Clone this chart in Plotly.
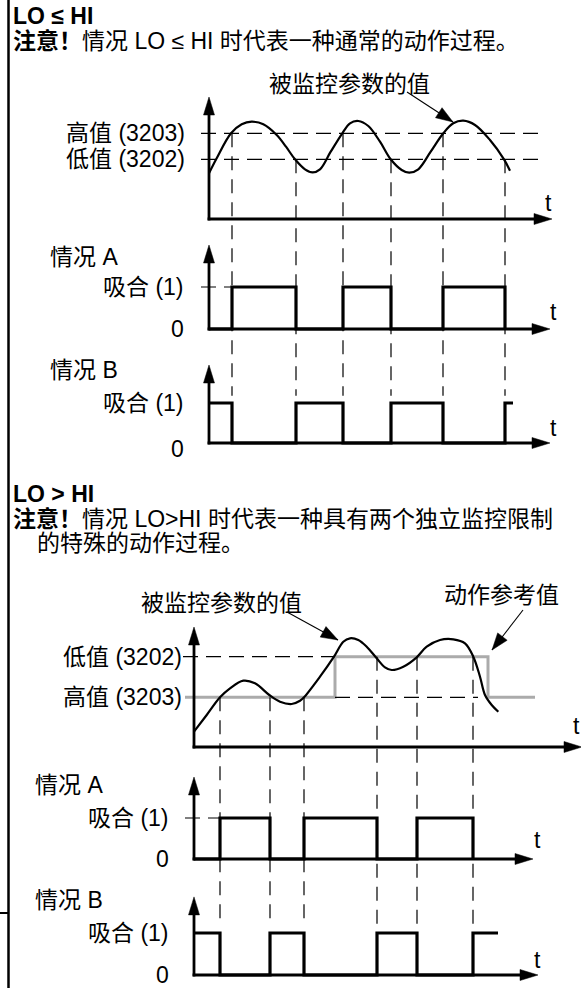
import math
import plotly.graph_objects as go

W, H = 581, 988
FONT = "Liberation Sans, Arial, 'Noto Sans CJK SC', sans-serif"
FS = 23
BLACK = "#000000"
GREY = "#ababab"

# ---------------- data: section 1 (LO <= HI) ----------------
top_t = [0.0, 0.77, 2.2, 3.27, 4.27, 5.43, 6.77, 7.7, 8.6, 9.6, 10.37, 11.1, 12.17,
         13.33, 14.1, 14.93, 15.93, 17.1, 18.17, 19.27, 20.03, 20.93, 22.17, 23.43,
         24.43, 25.43, 26.6, 28.1, 29.5, 30.1]
top_v = [4.57, 6.07, 8.57, 9.47, 9.73, 9.47, 8.4, 7.23, 5.97, 4.97, 4.67, 4.97, 6.73,
         8.57, 9.57, 9.8, 9.3, 7.73, 5.97, 4.9, 4.63, 4.97, 6.73, 8.57,
         9.57, 9.83, 9.4, 7.9, 5.97, 4.83]
top_hi = 8.57   # 高值 (3203)
top_lo = 5.97   # 低值 (3202)
top_switch_t = [2.3, 8.7, 13.4, 18.2, 23.4, 29.6]
top_switch_lvl = [top_hi, top_lo, top_hi, top_lo, top_hi, top_lo]
top_a_t = [0, 2.3, 8.7, 13.4, 18.2, 23.4, 29.6]
top_a_v = [0, 1, 0, 1, 0, 1, 0]
top_b_t = [0, 2.3, 8.7, 13.4, 18.2, 23.4, 29.6, 30.4]
top_b_v = [1, 0, 1, 0, 1, 0, 1, 1]

# ---------------- data: section 2 (LO > HI) ----------------
bot_t = [0.0, 1.27, 2.6, 3.6, 4.93, 6.1, 7.53, 8.6, 9.77, 10.6, 11.0, 12.6, 14.0,
         14.93, 15.6, 16.43, 17.27, 18.27, 19.1, 19.77, 20.93, 22.27, 23.27, 24.6,
         25.93, 27.1, 27.93, 28.6, 29.1, 29.77, 30.43]
bot_v = [1.53, 3.2, 4.97, 5.87, 6.63, 6.37, 5.2, 4.53, 4.3, 4.63, 4.97, 7.03, 9.03,
         10.53, 10.87, 10.7, 10.03, 8.87, 7.97, 7.7, 8.03, 8.97, 10.03, 10.7,
         10.77, 10.37, 9.03, 7.03, 5.2, 4.2, 3.53]
bot_lo = 9.03   # 低值 (3202)
bot_hi = 4.97   # 高值 (3203)
ref_t = [-0.9, 14.1, 29.4, 34.1]
ref_v = [bot_hi, bot_lo, bot_hi, bot_hi]
bot_switch_t = [2.6, 7.6, 11.0, 18.3, 22.3, 27.9]
bot_switch_lvl = [bot_hi, bot_hi, bot_hi, bot_lo, bot_lo, bot_lo]
bot_a_t = [0, 2.6, 7.6, 11.0, 18.3, 22.3, 27.9]
bot_a_v = [0, 1, 0, 1, 0, 1, 0]
bot_b_t = [0, 2.6, 7.6, 11.0, 18.3, 22.3, 27.9, 30.4]
bot_b_v = [1, 0, 1, 0, 1, 0, 1, 1]

# ---------------- geometry (pixels) ----------------
P = {
    'p1': dict(x='x', y='y', px0=209, py0=219, kx=10, ky=10, xtip=34.3, ytip=12.2),
    'p2': dict(x='x', y='y2', px0=209, py0=329, kx=10, ky=42, xtip=34.1, ytip=2.0),
    'p3': dict(x='x', y='y3', px0=209, py0=443, kx=10, ky=40, xtip=34.1, ytip=1.95),
    'p4': dict(x='x2', y='y4', px0=194, py0=747, kx=10, ky=10, xtip=38.8, ytip=12.0),
    'p5': dict(x='x2', y='y5', px0=194, py0=859, kx=10, ky=41, xtip=33.9, ytip=2.0),
    'p6': dict(x='x2', y='y6', px0=194, py0=975, kx=10, ky=42, xtip=34.4, ytip=1.86),
}


def to_px(p, t, v):
    g = P[p]
    return g['px0'] + t * g['kx'], g['py0'] - v * g['ky']


def from_px(p, x, y):
    g = P[p]
    return (x - g['px0']) / g['kx'], (g['py0'] - y) / g['ky']


fig = go.Figure()
shapes = []
annotations = []


def head(p, t, v, dx, dy, L=18, hw=5.5):
    n = math.hypot(dx, dy)
    ux, uy = dx / n, dy / n
    bx, by = -L * ux, -L * uy
    ox, oy = -uy * hw, ux * hw
    path = "M0,0 L{:.2f},{:.2f} L{:.2f},{:.2f} Z".format(bx + ox, by + oy, bx - ox, by - oy)
    return dict(type='path', xref=P[p]['x'], yref=P[p]['y'], xsizemode='pixel',
                ysizemode='pixel', xanchor=t, yanchor=v, path=path,
                fillcolor=BLACK, line=dict(color=BLACK, width=0.5), layer='above')


def seg(p, t0, v0, t1, v1, width=1.3, dash=None, color=BLACK):
    d = dict(type='line', xref=P[p]['x'], yref=P[p]['y'], x0=t0, y0=v0, x1=t1, y1=v1,
             line=dict(color=color, width=width), layer='above')
    if dash:
        d['line']['dash'] = dash
    return d


def axes_arrows(p):
    g = P[p]
    cx = 1.4 / g['kx']
    cy = 1.4 / g['ky']
    shapes.append(seg(p, -cx, 0, g['xtip'] - 9 / g['kx'], 0, width=2.8))
    shapes.append(seg(p, 0, -cy, 0, g['ytip'] - 9 / g['ky'], width=2.8))
    shapes.append(head(p, g['xtip'], 0, 1, 0))
    shapes.append(head(p, 0, g['ytip'], 0, 1))


def line_arrow(p, t0, v0, t1, v1):
    shapes.append(seg(p, t0, v0, t1, v1, width=1.1))
    x0, y0 = to_px(p, t0, v0)
    x1, y1 = to_px(p, t1, v1)
    shapes.append(head(p, t1, v1, x1 - x0, -(y1 - y0), L=17, hw=6))


def txt(x_px, y_px, s, xanchor='left', yref='paper', y=None, size=FS):
    annotations.append(dict(
        x=x_px / W, xref='paper',
        y=(1 - y_px / H) if yref == 'paper' else y, yref=yref,
        text=s, showarrow=False, xanchor=xanchor, yanchor='middle',
        font=dict(family=FONT, size=size, color=BLACK)))


def tr(p, x, y, **kw):
    fig.add_trace(go.Scatter(x=x, y=y, xaxis=P[p]['x'], yaxis=P[p]['y'], mode='lines',
                             hoverinfo='skip', showlegend=False, **kw))


DASH_H = "15px,8px"
DASH_V = "14px,9px"

# ---------------- section 1 ----------------
for lvl in (top_hi, top_lo):
    shapes.append(seg('p1', -0.8, lvl, 33.3, lvl, width=1.2, dash=DASH_H))
shapes.append(seg('p2', -0.8, 1, 2.3, 1, width=1.2, dash=DASH_H))
end_v = from_px('p1', 0, to_px('p3', 0, 1.18)[1])[1]
for t, lvl in zip(top_switch_t, top_switch_lvl):
    shapes.append(seg('p1', t, lvl, t, end_v, width=1.2, dash=DASH_V))

tr('p1', top_t, top_v, line=dict(color=BLACK, width=2.2, shape='spline', smoothing=1.0))
tr('p2', top_a_t, top_a_v, line=dict(color=BLACK, width=3.2, shape='hv'))
tr('p3', top_b_t, top_b_v, line=dict(color=BLACK, width=3.2, shape='hv'))
for p in ('p1', 'p2', 'p3'):
    axes_arrows(p)
line_arrow('p1', 19.8, 12.7, 24.4, 9.7)

txt(11, 16, "<b>LO ≤ HI</b>")
txt(11, 41, "<b>注意！</b>情况 LO ≤ HI 时代表一种通常的动作过程。")
txt(349, 84, "被监控参数的值", xanchor='center')
txt(187, 0, "高值 (3203)", xanchor='right', yref='y', y=top_hi)
txt(187, 0, "低值 (3202)", xanchor='right', yref='y', y=top_lo)
txt(548, 203, "t", xanchor='center')
txt(48, 257, "情况 A")
txt(186, 0, "吸合 (1)", xanchor='right', yref='y2', y=1)
txt(186, 0, "0", xanchor='right', yref='y2', y=0)
txt(553, 312, "t", xanchor='center')
txt(48, 370, "情况 B")
txt(186, 0, "吸合 (1)", xanchor='right', yref='y3', y=1)
txt(186, 449, "0", xanchor='right')
txt(553, 428, "t", xanchor='center')

# ---------------- section 2 ----------------
shapes.append(seg('p4', -1.1, bot_lo, 14.1, bot_lo, width=1.2, dash=DASH_H))
shapes.append(seg('p4', 14.1, bot_hi, 28.4, bot_hi, width=1.2, dash=DASH_H))
shapes.append(seg('p5', -0.9, 1, 2.6, 1, width=1.2, dash=DASH_H))
end_v2 = from_px('p4', 0, to_px('p6', 0, 1.19)[1])[1]
for t, lvl in zip(bot_switch_t, bot_switch_lvl):
    shapes.append(seg('p4', t, lvl, t, end_v2, width=1.2, dash=DASH_V))

tr('p4', ref_t, ref_v, line=dict(color=GREY, width=3, shape='hv'))
tr('p4', bot_t, bot_v, line=dict(color=BLACK, width=2.2, shape='spline', smoothing=1.0))
tr('p5', bot_a_t, bot_a_v, line=dict(color=BLACK, width=3.2, shape='hv'))
tr('p6', bot_b_t, bot_b_v, line=dict(color=BLACK, width=3.2, shape='hv'))
for p in ('p4', 'p5', 'p6'):
    axes_arrows(p)
line_arrow('p4', 9.3, 13.5, 14.4, 10.7)
line_arrow('p4', 32.9, 13.7, 29.8, 9.7)

txt(11, 494, "<b>LO > HI</b>")
txt(11, 519, "<b>注意！</b>情况 LO>HI 时代表一种具有两个独立监控限制")
txt(35, 543, "的特殊的动作过程。")
txt(304, 603, "被监控参数的值", xanchor='right')
txt(501, 595, "动作参考值", xanchor='center')
txt(184, 0, "低值 (3202)", xanchor='right', yref='y4', y=bot_lo)
txt(184, 0, "高值 (3203)", xanchor='right', yref='y4', y=bot_hi)
txt(576, 726, "t", xanchor='center')
txt(33, 785, "情况 A")
txt(171, 0, "吸合 (1)", xanchor='right', yref='y5', y=1)
txt(171, 0, "0", xanchor='right', yref='y5', y=0)
txt(537, 840, "t", xanchor='center')
txt(33, 900, "情况 B")
txt(171, 0, "吸合 (1)", xanchor='right', yref='y6', y=1)
txt(171, 0, "0", xanchor='right', yref='y6', y=0)
txt(537, 960, "t", xanchor='center')

# page frame: left rule and tick
shapes.append(dict(type='line', xref='paper', yref='paper', x0=8.5 / W, x1=8.5 / W, y0=0, y1=1,
                   line=dict(color=BLACK, width=2.5), layer='above'))
shapes.append(dict(type='line', xref='paper', yref='paper', x0=0, x1=8.5 / W,
                   y0=1 - 913 / H, y1=1 - 913 / H, line=dict(color=BLACK, width=2), layer='above'))


def xr(px0, k):
    return [-px0 / k, (W - px0) / k]


def yr(py0, k):
    return [(py0 - H) / k, py0 / k]


common = dict(visible=False, fixedrange=True, domain=[0, 1])
layout_axes = {
    'xaxis': dict(range=xr(209, 10), anchor='y', **common),
    'xaxis2': dict(range=xr(194, 10), anchor='y4', **common),
}
for key, p in (('yaxis', 'p1'), ('yaxis2', 'p2'), ('yaxis3', 'p3'),
               ('yaxis4', 'p4'), ('yaxis5', 'p5'), ('yaxis6', 'p6')):
    g = P[p]
    layout_axes[key] = dict(range=yr(g['py0'], g['ky']), anchor=g['x'], **common)

fig.update_layout(
    width=W, height=H, margin=dict(l=0, r=0, t=0, b=0, pad=0),
    paper_bgcolor='white', plot_bgcolor='rgba(0,0,0,0)',
    showlegend=False, shapes=shapes, annotations=annotations,
    font=dict(family=FONT, size=FS, color=BLACK),
    **layout_axes,
)

fig.write_html("out.html", config={'displayModeBar': False, 'staticPlot': True},
               post_script="document.body.style.margin='0';")
